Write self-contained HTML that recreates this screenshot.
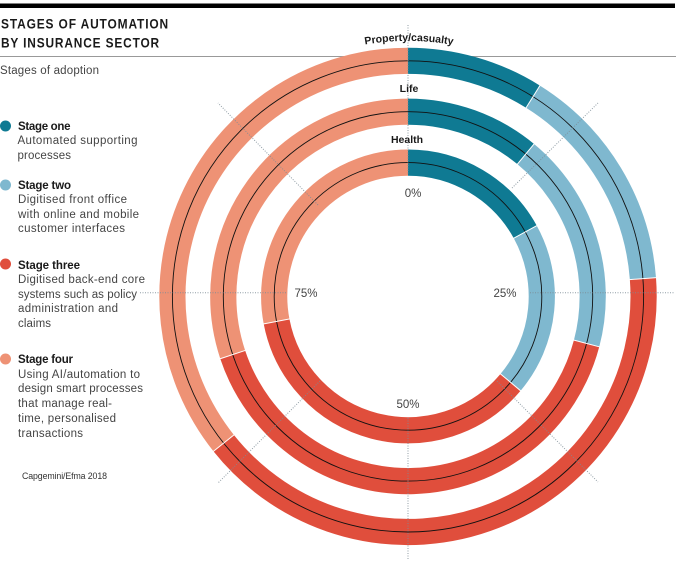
<!DOCTYPE html>
<html lang="en">
<head>
<meta charset="utf-8">
<title>Stages of automation by insurance sector</title>
<style>
html,body{margin:0;padding:0;background:#fff;}
body{width:680px;height:568px;overflow:hidden;}
svg{display:block;font-family:"Liberation Sans",sans-serif;}
.title{font-size:14px;font-weight:700;letter-spacing:1px;fill:#1a1a1a;}
.sub{font-size:11.5px;fill:#444;}
.lh{font-size:11.5px;font-weight:700;fill:#1a1a1a;}
.lt{font-size:11.5px;fill:#444;}
.src{font-size:8.8px;fill:#333;}
.tick{font-size:11.5px;fill:#444;text-anchor:middle;}
.sector{font-size:10.5px;font-weight:700;fill:#1a1a1a;text-anchor:middle;}
</style>
</head>
<body>
<svg id="chart" width="680" height="568" viewBox="0 0 680 568" xmlns="http://www.w3.org/2000/svg">
  <rect x="0" y="3.5" width="675" height="4.5" fill="#000"/>
  <rect x="0" y="56" width="676" height="1" fill="#999"/>
  <text class="title" x="1" y="28.5" textLength="168" lengthAdjust="spacingAndGlyphs">STAGES OF AUTOMATION</text>
  <text class="title" x="1" y="47.5" textLength="159" lengthAdjust="spacingAndGlyphs">BY INSURANCE SECTOR</text>
  <text class="sub" x="0" y="74" textLength="99">Stages of adoption</text>

  <g>
    <circle cx="5.5" cy="126" r="5.5" fill="#0f7a93"/>
    <text class="lh" x="18" y="130" textLength="52.5">Stage one</text>
    <text class="lt" x="17.5" y="144" textLength="120">Automated supporting</text>
    <text class="lt" x="17.5" y="159" textLength="53.5">processes</text>
  </g>
  <g>
    <circle cx="5.5" cy="185" r="5.5" fill="#7fb8cf"/>
    <text class="lh" x="18" y="189" textLength="53">Stage two</text>
    <text class="lt" x="18" y="203" textLength="109">Digitised front office</text>
    <text class="lt" x="18" y="218" textLength="121">with online and mobile</text>
    <text class="lt" x="18" y="232" textLength="107">customer interfaces</text>
  </g>
  <g>
    <circle cx="5.5" cy="264" r="5.5" fill="#e04e3c"/>
    <text class="lh" x="18" y="269" textLength="62">Stage three</text>
    <text class="lt" x="18" y="283" textLength="127">Digitised back-end core</text>
    <text class="lt" x="18" y="298" textLength="119">systems such as policy</text>
    <text class="lt" x="18" y="312" textLength="100">administration and</text>
    <text class="lt" x="18" y="327" textLength="33">claims</text>
  </g>
  <g>
    <circle cx="5.5" cy="359" r="5.5" fill="#ee9275"/>
    <text class="lh" x="18" y="363" textLength="55">Stage four</text>
    <text class="lt" x="18" y="378" textLength="122">Using AI/automation to</text>
    <text class="lt" x="18" y="392" textLength="125">design smart processes</text>
    <text class="lt" x="18" y="407" textLength="94">that manage real-</text>
    <text class="lt" x="18" y="422" textLength="98">time, personalised</text>
    <text class="lt" x="18" y="437" textLength="65">transactions</text>
  </g>
  <text class="src" x="22" y="479" textLength="85">Capgemini/Efma 2018</text>

  <g id="rings"></g>
  <g id="grid"></g>
  <g id="labels"></g>
</svg>
<script>
const sectors = ['Property/casualty', 'Life', 'Health'];
const stageOne = [8.9, 11.0, 17.0];
const stageTwo = [14.9, 18.1, 19.1];
const stageThree = [40.5, 40.8, 35.9];
const stageFour = [35.7, 30.1, 28.0];
const tickLabels = ['0%', '25%', '50%', '75%'];

const NS = 'http://www.w3.org/2000/svg';
const stageSeries = [stageOne, stageTwo, stageThree, stageFour];
const stageColors = ['#0f7a93', '#7fb8cf', '#e04e3c', '#ee9275'];
const stageNames = ['stage-one', 'stage-two', 'stage-three', 'stage-four'];
const cx = 408, cy = 296.4, gridCy = 292.7;

function angleScale(pct) { return pct / 100 * 2 * Math.PI; }
function outerRadius(i) { return 248.7 - 50.9 * i; }
function innerRadius(i) { return outerRadius(i) - 26.2; }
function polar(r, pct) {
  const a = angleScale(pct);
  return [cx + r * Math.sin(a), cy - r * Math.cos(a)];
}
function make(tag, attrs) {
  const el = document.createElementNS(NS, tag);
  for (const k in attrs) el.setAttribute(k, attrs[k]);
  return el;
}
function arcPath(r, p0, p1) {
  const a = polar(r, p0), b = polar(r, p1);
  const large = p1 - p0 > 50 ? 1 : 0;
  return 'M' + a[0] + ' ' + a[1] + 'A' + r + ' ' + r + ' 0 ' + large + ' 1 ' + b[0] + ' ' + b[1];
}

const rings = document.getElementById('rings');
sectors.forEach(function (sector, i) {
  const ro = outerRadius(i), ri = innerRadius(i), rm = (ro + ri) / 2;
  const slug = sector.toLowerCase().replace(/[^a-z]+/g, '-');
  let start = 0;
  const stops = [];
  stageSeries.forEach(function (series, s) {
    const end = start + series[i];
    const seg = make('path', { d: arcPath(rm, start, end), fill: 'none', stroke: stageColors[s], 'stroke-width': ro - ri });
    
    
    rings.appendChild(seg);
    stops.push(end);
    start = end;
  });
  const mid1 = polar(rm, 0), mid2 = polar(rm, 50);
  const centre = make('path', {
    d: 'M' + mid1[0] + ' ' + mid1[1] + 'A' + rm + ' ' + rm + ' 0 1 1 ' + mid2[0] + ' ' + mid2[1] + 'A' + rm + ' ' + rm + ' 0 1 1 ' + mid1[0] + ' ' + mid1[1],
    fill: 'none', stroke: '#111', 'stroke-width': 0.9
  });
  
  
  rings.appendChild(centre);
  stops.slice(0, 3).forEach(function (p) {
    const a = polar(ri - 0.5, p), b = polar(ro + 0.5, p);
    const sep = make('line', { x1: a[0], y1: a[1], x2: b[0], y2: b[1], stroke: '#fff', 'stroke-width': 1 });
    
    
    rings.appendChild(sep);
  });
});

const grid = document.getElementById('grid');
function spoke(x1, y1, x2, y2, name) {
  const ln = make('line', { x1: x1, y1: y1, x2: x2, y2: y2, stroke: '#7d8c96', 'stroke-width': 1, 'stroke-dasharray': '1 1.5', opacity: 0.85 });
  
  
  grid.appendChild(ln);
}
spoke(408, 25, 408, 175, 'gridline-0');
spoke(408, 418, 408, 560, 'gridline-50');
spoke(530, gridCy, 675, gridCy, 'gridline-25');
spoke(140, gridCy, 286, gridCy, 'gridline-75');
spoke(512, 188, 598, 103, 'gridline-12');
spoke(497, 381, 598, 482, 'gridline-37');
spoke(320, 381, 218, 483, 'gridline-62');
spoke(318, 205, 218, 103, 'gridline-87');

const labels = document.getElementById('labels');
const tickPos = [[413, 197], [505, 297], [408, 408], [306, 297]];
tickLabels.forEach(function (t, i) {
  const el = make('text', { class: 'tick', x: tickPos[i][0], y: tickPos[i][1] });
  
  
  el.textContent = t;
  labels.appendChild(el);
});

const defs = make('defs', {});
const curveR = 255.5;
const curve = make('path', { id: 'sector-curve', fill: 'none' });
curve.setAttribute('d', 'M' + polar(curveR, 85)[0] + ' ' + polar(curveR, 85)[1] + 'A' + curveR + ' ' + curveR + ' 0 0 1 ' + polar(curveR, 15)[0] + ' ' + polar(curveR, 15)[1]);
defs.appendChild(curve);
labels.appendChild(defs);

sectors.forEach(function (sector, i) {
  const el = make('text', { class: 'sector' });
  
  
  if (i === 0) {
    const tp = make('textPath', { href: '#sector-curve', startOffset: '50.2%' });
    tp.textContent = sector;
    el.appendChild(tp);
  } else {
    el.setAttribute('x', i === 1 ? 409 : 407);
    el.setAttribute('y', i === 1 ? 92 : 143);
    el.textContent = sector;
  }
  labels.appendChild(el);
});
</script>
</body>
</html>
